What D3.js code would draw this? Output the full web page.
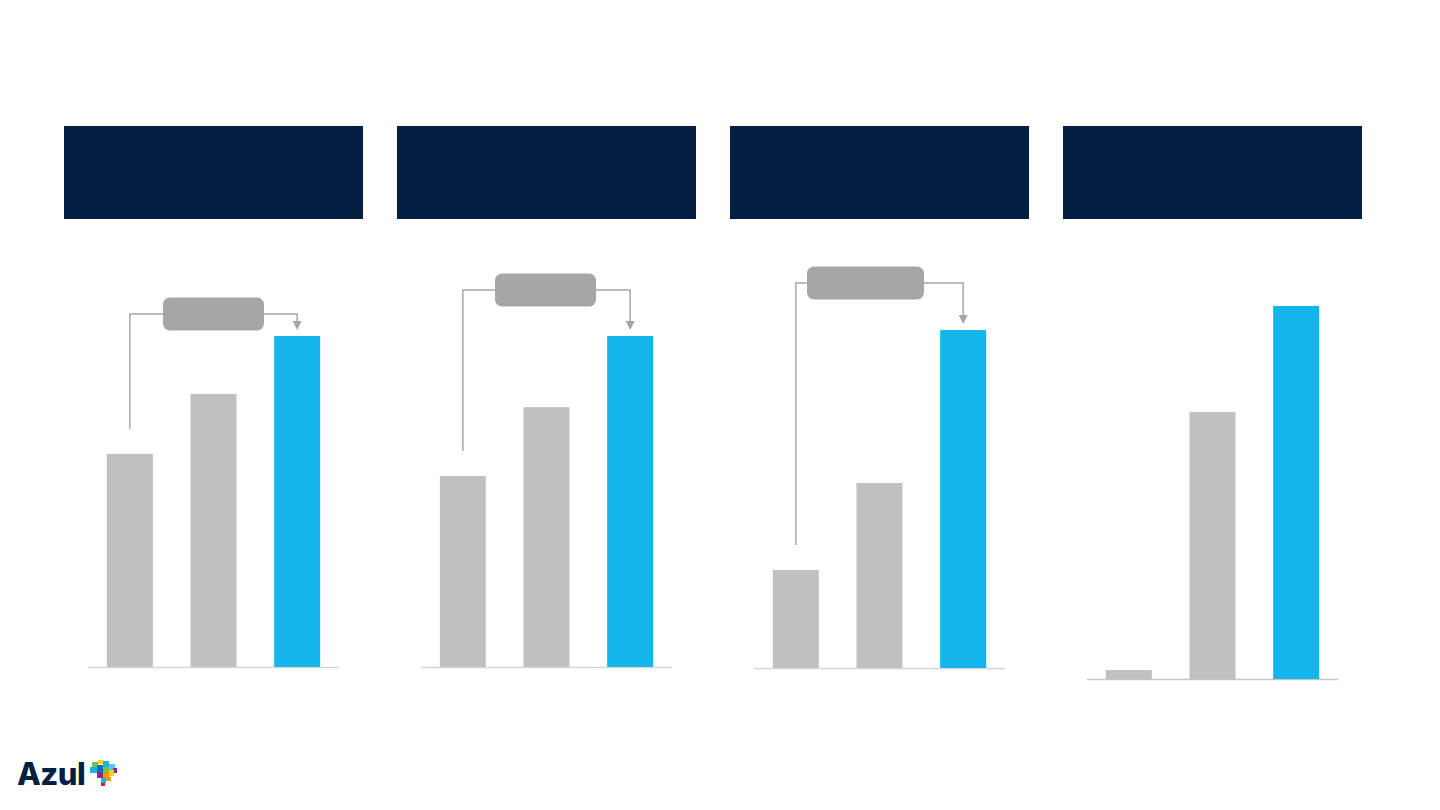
<!DOCTYPE html>
<html>
<head>
<meta charset="utf-8">
<script src="https://cdn.jsdelivr.net/npm/d3@7"></script>
<style>
  html, body { margin: 0; padding: 0; background: #fff; }
  svg { display: block; }
</style>
</head>
<body>
<svg id="chart" width="1440" height="810"></svg>
<script>
// data: three bars per panel, relative index (panel 1 last bar = 100)
const categories = ["p1", "p2", "p3"];
const panel1 = [64.4, 82.5, 100];
const panel2 = [57.7, 78.5, 100];
const panel3 = [29.6, 55.9, 102.1];
const panel4 = [2.7, 80.7, 112.7];
const panels = [panel1, panel2, panel3, panel4];
// which panels show the growth bracket
const hasBracket = [true, true, true, false];

// layout
const panelLeft = [64, 397, 730, 1063];
const baseY = [667, 667, 668, 679];
const pillCY = [314, 290, 283, null];
const pillX = [99, 98, 77, null];
const pillW = [101, 101, 117, null];

const navy = "#051f42";
const grey = "#c0c0c0";
const blue = "#14b5ea";
const pillGrey = "#a6a6a6";

const svg = d3.select("#chart");

const x = d3.scaleBand()
  .domain(categories)
  .range([24, 275])
  .paddingInner(0.45)
  .paddingOuter(0.225);

const h = d3.scaleLinear().domain([0, 100]).range([0, 331]);

panels.forEach((vals, i) => {
  const g = svg.append("g").attr("transform", `translate(${panelLeft[i]},0)`);
  const y = v => baseY[i] - h(v);

  // header block
  g.append("rect")
    .attr("x", 0).attr("y", 126)
    .attr("width", 299).attr("height", 93)
    .attr("fill", navy);

  // baseline
  g.append("line")
    .attr("x1", x.range()[0]).attr("x2", x.range()[1])
    .attr("y1", baseY[i] + 0.5).attr("y2", baseY[i] + 0.5)
    .attr("stroke", i === 3 ? "#c4c4c4" : "#d6d6d6")
    .attr("stroke-width", 1.6);

  g.selectAll("rect.bar")
    .data(vals)
    .join("rect")
    .attr("class", "bar")
    .attr("x", (d, j) => x(categories[j]))
    .attr("width", x.bandwidth())
    .attr("y", d => y(d))
    .attr("height", d => h(d))
    .attr("fill", (d, j) => j === 2 ? blue : grey);

  if (!hasBracket[i]) return;

  const cx0 = x(categories[0]) + x.bandwidth() / 2;
  const cx2 = x(categories[2]) + x.bandwidth() / 2;
  const cy = pillCY[i];
  const tipY = y(vals[2]) - 6;

  // connector from first bar up and over to last bar
  g.append("path")
    .attr("d", `M${cx0},${y(vals[0]) - 25} V${cy} H${cx2} V${tipY - 8}`)
    .attr("fill", "none")
    .attr("stroke", pillGrey)
    .attr("stroke-width", 1.5);

  g.append("path")
    .attr("d", `M${cx2 - 4.5},${tipY - 9} L${cx2 + 4.5},${tipY - 9} L${cx2},${tipY} Z`)
    .attr("fill", pillGrey);

  g.append("rect")
    .attr("x", pillX[i]).attr("y", cy - 16.5)
    .attr("width", pillW[i]).attr("height", 33)
    .attr("rx", 7)
    .attr("fill", pillGrey);
});

// logo
const logo = svg.append("g");
logo.append("text")
  .attr("x", 17).attr("y", 785)
  .attr("font-family", "Inter, 'Open Sans', sans-serif")
  .attr("font-weight", 800)
  .attr("font-size", 31)
  .attr("letter-spacing", -0.5)
  .attr("fill", navy)
  .text("Azul");

const tiles = [
  [92, 762, 6, 5, "#7ac143"], [98, 760, 5, 4, "#ffd200"], [103, 761, 6, 6, "#14b5ea"],
  [90, 767, 7, 6, "#14b5ea"], [97, 765, 6, 7, "#0072bc"], [103, 767, 6, 6, "#7ac143"],
  [109, 764, 6, 6, "#5bc5f2"], [113, 768, 4, 5, "#92278f"], [97, 772, 6, 6, "#92278f"],
  [103, 773, 6, 5, "#f7941d"], [109, 770, 5, 6, "#ffd200"], [101, 778, 5, 5, "#14b5ea"],
  [106, 777, 5, 4, "#f7941d"], [101, 783, 4, 3, "#ed1c24"]
];
logo.selectAll("rect")
  .data(tiles)
  .join("rect")
  .attr("x", d => d[0]).attr("y", d => d[1])
  .attr("width", d => d[2]).attr("height", d => d[3])
  .attr("fill", d => d[4]);
</script>
</body>
</html>
